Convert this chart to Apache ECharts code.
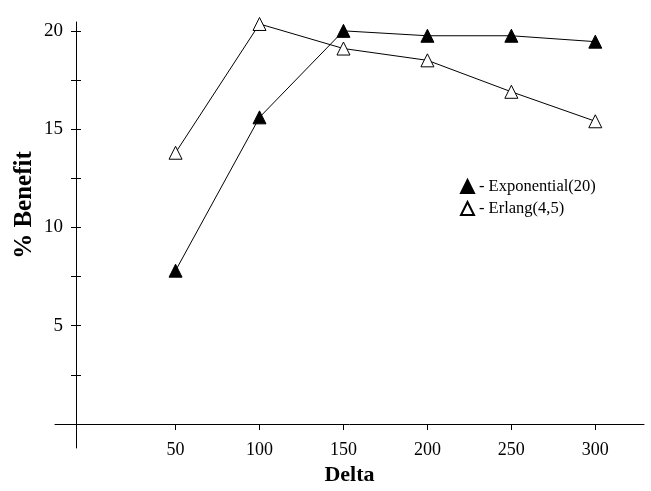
<!DOCTYPE html>
<html><head><meta charset="utf-8">
<script src="https://cdn.jsdelivr.net/npm/echarts@6/dist/echarts.min.js"></script>
<style>html,body{margin:0;padding:0;background:#fff}#c{width:651px;height:491px}</style>
</head><body><div id="c"></div>
<script>
const deltas = [50, 100, 150, 200, 250, 300];
const exponential = [7.8, 15.6, 20.0, 19.75, 19.75, 19.45];
const erlang = [13.8, 20.35, 19.1, 18.5, 16.9, 15.4];
const xTicks = [50, 100, 150, 200, 250, 300];
const yTickLabels = [5, 10, 15, 20];
const yTicks = [2.5, 5, 7.5, 10, 12.5, 15, 17.5, 20];
const seriesNames = ['- Exponential(20)', '- Erlang(4,5)'];

const font = '"Liberation Serif", "DejaVu Serif", serif';
const chart = echarts.init(document.getElementById('c'));
const pair = (xs, ys) => xs.map((x, i) => [x, ys[i]]);
chart.setOption({
  animation: false,
  backgroundColor: '#fff',
  grid: {left: 55, right: 7, top: 22, bottom: 43, outerBoundsMode: 'none', containLabel: false},
  legend: {
    orient: 'vertical', left: 455, top: 173, itemWidth: 13, itemHeight: 13, itemGap: 5,
    textStyle: {fontFamily: font, fontSize: 16.5, color: '#000'},
    data: seriesNames.map(n => ({name: n, icon: 'triangle'}))
  },
  xAxis: [{
    type: 'value', min: -21.8, max: 329, splitLine: {show: false},
    axisLine: {onZero: true, lineStyle: {color: '#000', width: 1}},
    axisTick: {show: true, length: 6, inside: false, customValues: xTicks, lineStyle: {color: '#000'}},
    axisLabel: {customValues: xTicks, margin: -7, fontFamily: font, fontSize: 18, color: '#000'},
    name: 'Delta', nameLocation: 'middle', nameGap: 16,
    nameTextStyle: {fontFamily: font, fontSize: 22, fontWeight: 'bold', color: '#000'}
  }, {
    type: 'value', min: -21.8, max: 329, axisLine: {show: false, onZero: true}, splitLine: {show: false},
    axisTick: {show: true, length: 6, inside: true, customValues: xTicks, lineStyle: {color: '#000'}},
    axisLabel: {show: false}
  }],
  yAxis: [{
    type: 'value', min: -1.22, max: 20.45, offset: -21, splitLine: {show: false},
    axisLine: {onZero: false, lineStyle: {color: '#000', width: 1}},
    axisTick: {show: true, length: 5, customValues: yTicks, lineStyle: {color: '#000'}},
    axisLabel: {customValues: yTickLabels, margin: 13, fontFamily: font, fontSize: 19, color: '#000'},
    name: '% Benefit', nameLocation: 'middle', nameGap: 39, nameMoveOverlap: false,
    nameTextStyle: {fontFamily: font, fontSize: 25, fontWeight: 'bold', color: '#000', padding: [0, 0, 0, 60]}
  }, {
    type: 'value', min: -1.22, max: 20.45, offset: -21, position: 'left',
    axisLine: {show: false, onZero: false}, splitLine: {show: false},
    axisTick: {show: true, length: 5, inside: true, customValues: yTicks, lineStyle: {color: '#000'}},
    axisLabel: {show: false}
  }],
  series: [{
    name: seriesNames[0], type: 'line', data: pair(deltas, exponential),
    symbol: 'triangle', symbolSize: 13,
    lineStyle: {color: '#000', width: 1},
    itemStyle: {color: '#000', borderColor: '#000', borderWidth: 1}
  }, {
    name: seriesNames[1], type: 'line', data: pair(deltas, erlang),
    symbol: 'triangle', symbolSize: 13,
    lineStyle: {color: '#000', width: 1},
    itemStyle: {color: '#fff', borderColor: '#000', borderWidth: 1}
  }]
});
</script></body></html>
